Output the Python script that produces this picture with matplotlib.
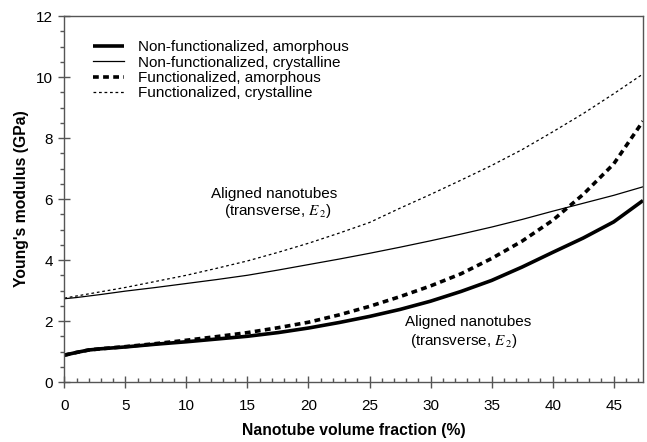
import matplotlib
matplotlib.use("Agg")
import matplotlib.pyplot as plt
from matplotlib.ticker import MultipleLocator

plt.rcParams['font.family'] = ['Liberation Sans', 'DejaVu Sans']
plt.rcParams['mathtext.fontset'] = 'stix'

# Nanotube volume fraction (%)
vf = [0, 1, 2, 3, 5, 7.5, 10, 12.5, 15, 17.5, 20, 22.5, 25, 27.5, 30,
      32.5, 35, 37.5, 40, 42.5, 45, 47.4]

nonfunc_amorphous = [0.88, 0.97, 1.05, 1.09, 1.15, 1.24, 1.32, 1.41, 1.50, 1.62,
                     1.77, 1.95, 2.15, 2.38, 2.65, 2.97, 3.33, 3.77, 4.25, 4.72,
                     5.25, 5.95]
nonfunc_crystalline = [2.73, 2.77, 2.82, 2.87, 2.98, 3.10, 3.23, 3.36, 3.50, 3.67,
                       3.85, 4.03, 4.22, 4.42, 4.63, 4.85, 5.08, 5.33, 5.60, 5.86,
                       6.12, 6.40]
func_amorphous = [0.88, 0.97, 1.05, 1.09, 1.16, 1.26, 1.37, 1.49, 1.62, 1.78,
                  1.96, 2.20, 2.48, 2.80, 3.15, 3.55, 4.05, 4.62, 5.30, 6.15,
                  7.15, 8.55]
func_crystalline = [2.75, 2.82, 2.89, 2.96, 3.10, 3.30, 3.50, 3.73, 3.97, 4.25,
                    4.55, 4.88, 5.23, 5.70, 6.15, 6.62, 7.10, 7.62, 8.20, 8.80,
                    9.45, 10.10]

labels = ["Non-functionalized, amorphous", "Non-functionalized, crystalline",
          "Functionalized, amorphous", "Functionalized, crystalline"]

fs = 11

fig = plt.figure(figsize=(6.47, 4.42), dpi=100)
ax = fig.add_axes([0.0994, 0.1357, 0.8944, 0.8281])

ax.plot(vf, nonfunc_amorphous, color='black', lw=2.6, solid_capstyle='butt', label=labels[0])
ax.plot(vf, nonfunc_crystalline, color='black', lw=0.9, label=labels[1])
ax.plot(vf, func_amorphous, color='black', lw=2.6, linestyle=(0, (1.6, 1.2)),
        dash_capstyle='butt', label=labels[2])
ax.plot(vf, func_crystalline, color='black', lw=0.9, linestyle=(0, (2.2, 2.2)),
        label=labels[3])

ax.set_xlim(0, 47.4)
ax.set_ylim(0, 12)
ax.xaxis.set_major_locator(MultipleLocator(5))
ax.xaxis.set_minor_locator(MultipleLocator(1))
ax.yaxis.set_major_locator(MultipleLocator(2))
ax.yaxis.set_minor_locator(MultipleLocator(0.5))

spine_color = '#555555'
for s in ax.spines.values():
    s.set_color(spine_color)
    s.set_linewidth(1.0)

ax.tick_params(axis='x', which='major', direction='inout', length=8, width=1,
               color=spine_color, labelsize=fs, pad=8.5)
ax.tick_params(axis='x', which='minor', direction='in', length=3, width=1,
               color=spine_color)
ax.tick_params(axis='y', which='major', direction='inout', length=8, width=1,
               color=spine_color, labelsize=fs, pad=4)
ax.tick_params(axis='y', which='minor', direction='out', length=3, width=1,
               color=spine_color)

ax.set_xlabel("Nanotube volume fraction (%)", fontsize=11.3, fontweight='bold', labelpad=7)
ax.set_ylabel("Young's modulus (GPa)", fontsize=11.3, fontweight='bold', labelpad=5)

leg = ax.legend(loc='upper left', bbox_to_anchor=(0.05, 0.934), frameon=False,
                fontsize=fs, handlelength=2.0, handletextpad=0.95,
                labelspacing=0.09, borderpad=0, borderaxespad=0)

ax.text(17.15, 6.16, "Aligned nanotubes", ha='center', va='center', fontsize=fs)
ax.text(17.5, 5.61, r"(transverse, $E_{\,2}$)", ha='center', va='center', fontsize=fs)
ax.text(33.1, 1.97, "Aligned nanotubes", ha='center', va='center', fontsize=fs)
ax.text(32.7, 1.34, r"(transverse, $E_{\,2}$)", ha='center', va='center', fontsize=fs)

fig.savefig("out.png", dpi=100)
